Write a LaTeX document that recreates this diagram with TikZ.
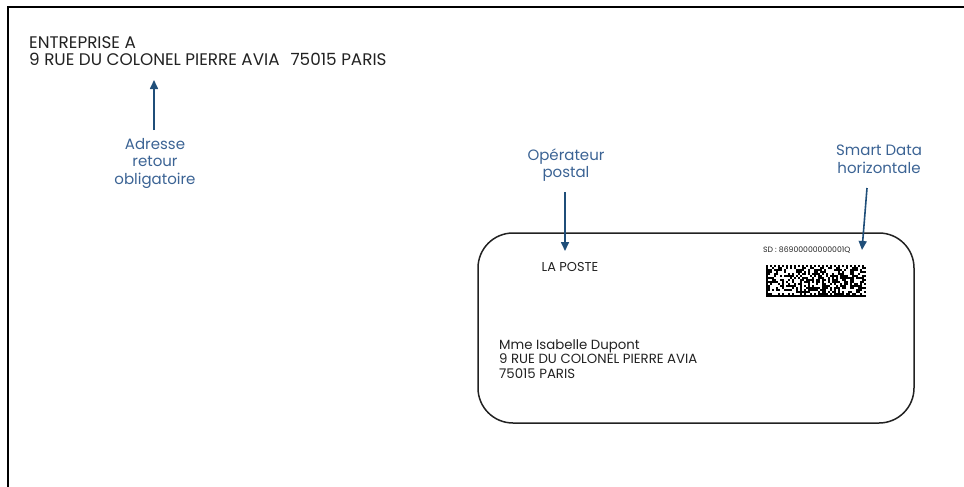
\documentclass[tikz,border=0pt]{standalone}
\usepackage{fontspec}
\setmainfont{Poppins}
\usetikzlibrary{arrows.meta}
\definecolor{lblue}{RGB}{59,99,148}
\definecolor{dblue}{RGB}{31,78,121}
\definecolor{ink}{RGB}{34,34,34}
\begin{document}
\begin{tikzpicture}[x=1pt,y=-1pt,
  lbl/.style={text=lblue,font=\fontsize{15}{17.5}\selectfont,align=center,inner sep=0,anchor=base},
  addr/.style={text=ink,anchor=base west,inner sep=0,align=left},
  callout/.style={draw=dblue,line width=1.6pt,-{Triangle[width=8pt,length=9pt]}}]
\useasboundingbox (0,0) rectangle (964,487);
\draw[line width=2pt,black] (8,487) -- (8,7) -- (964,7);

% sender (base anchor = baseline of last line)
\node[addr,font=\fontsize{16.8}{17.7}\selectfont] (sender) at (29,66) {ENTREPRISE A\\9 RUE DU COLONEL PIERRE AVIA\hspace{11pt}75015 PARIS};

% envelope
\node[draw=ink,line width=1.5pt,rounded corners=35pt,minimum width=436pt,minimum height=190pt,inner sep=0] (env) at (696,328) {};

\node[addr,font=\fontsize{12.9}{14}\selectfont] (poste) at (541.5,271.7) {LA POSTE};
\node[addr,font=\fontsize{13.3}{14.5}\selectfont] (dest) at (499,378) {Mme Isabelle Dupont\\9 RUE DU COLONEL PIERRE AVIA\\75015 PARIS};
\node[addr,font=\fontsize{7.7}{8}\selectfont] (sd) at (763,252) {SD : 86900000000001Q};

% barcode
\pgfmathsetseed{20240}
\fill[black] (766,265) rectangle (768,297);
\fill[black] (766,295) rectangle (866,297);
\foreach \i in {0,2,...,48} {\fill[black] (766+2*\i,265) rectangle ++(2,2);}
\foreach \j in {1,3,...,13} {\fill[black] (864,265+2*\j) rectangle ++(2,2);}
\foreach \i in {1,...,48} {\foreach \j in {1,...,14} {%
  \pgfmathrandominteger{\r}{0}{1}%
  \ifnum\r=1 \fill[black] (766+2*\i,265+2*\j) rectangle ++(2,2);\fi}}

% labels (base anchor = baseline of last line)
\node[lbl] (adr) at (155,184) {Adresse\\retour\\obligatoire};
\node[lbl] (op) at (566,177.7) {Opérateur\\postal};
\node[lbl] (smart) at (879,173.3) {Smart Data\\horizontale};

% callouts
\coordinate (a1) at (154,130);
\coordinate (a2) at (154,80);
\coordinate (o1) at (565,192);
\coordinate (o2) at (565,251);
\coordinate (s1) at (867,188);
\coordinate (s2) at (862,250);
\draw[callout] (a1) -- (a2);
\draw[callout] (o1) -- (o2);
\draw[callout] (s1) -- (s2);
\end{tikzpicture}
\end{document}
